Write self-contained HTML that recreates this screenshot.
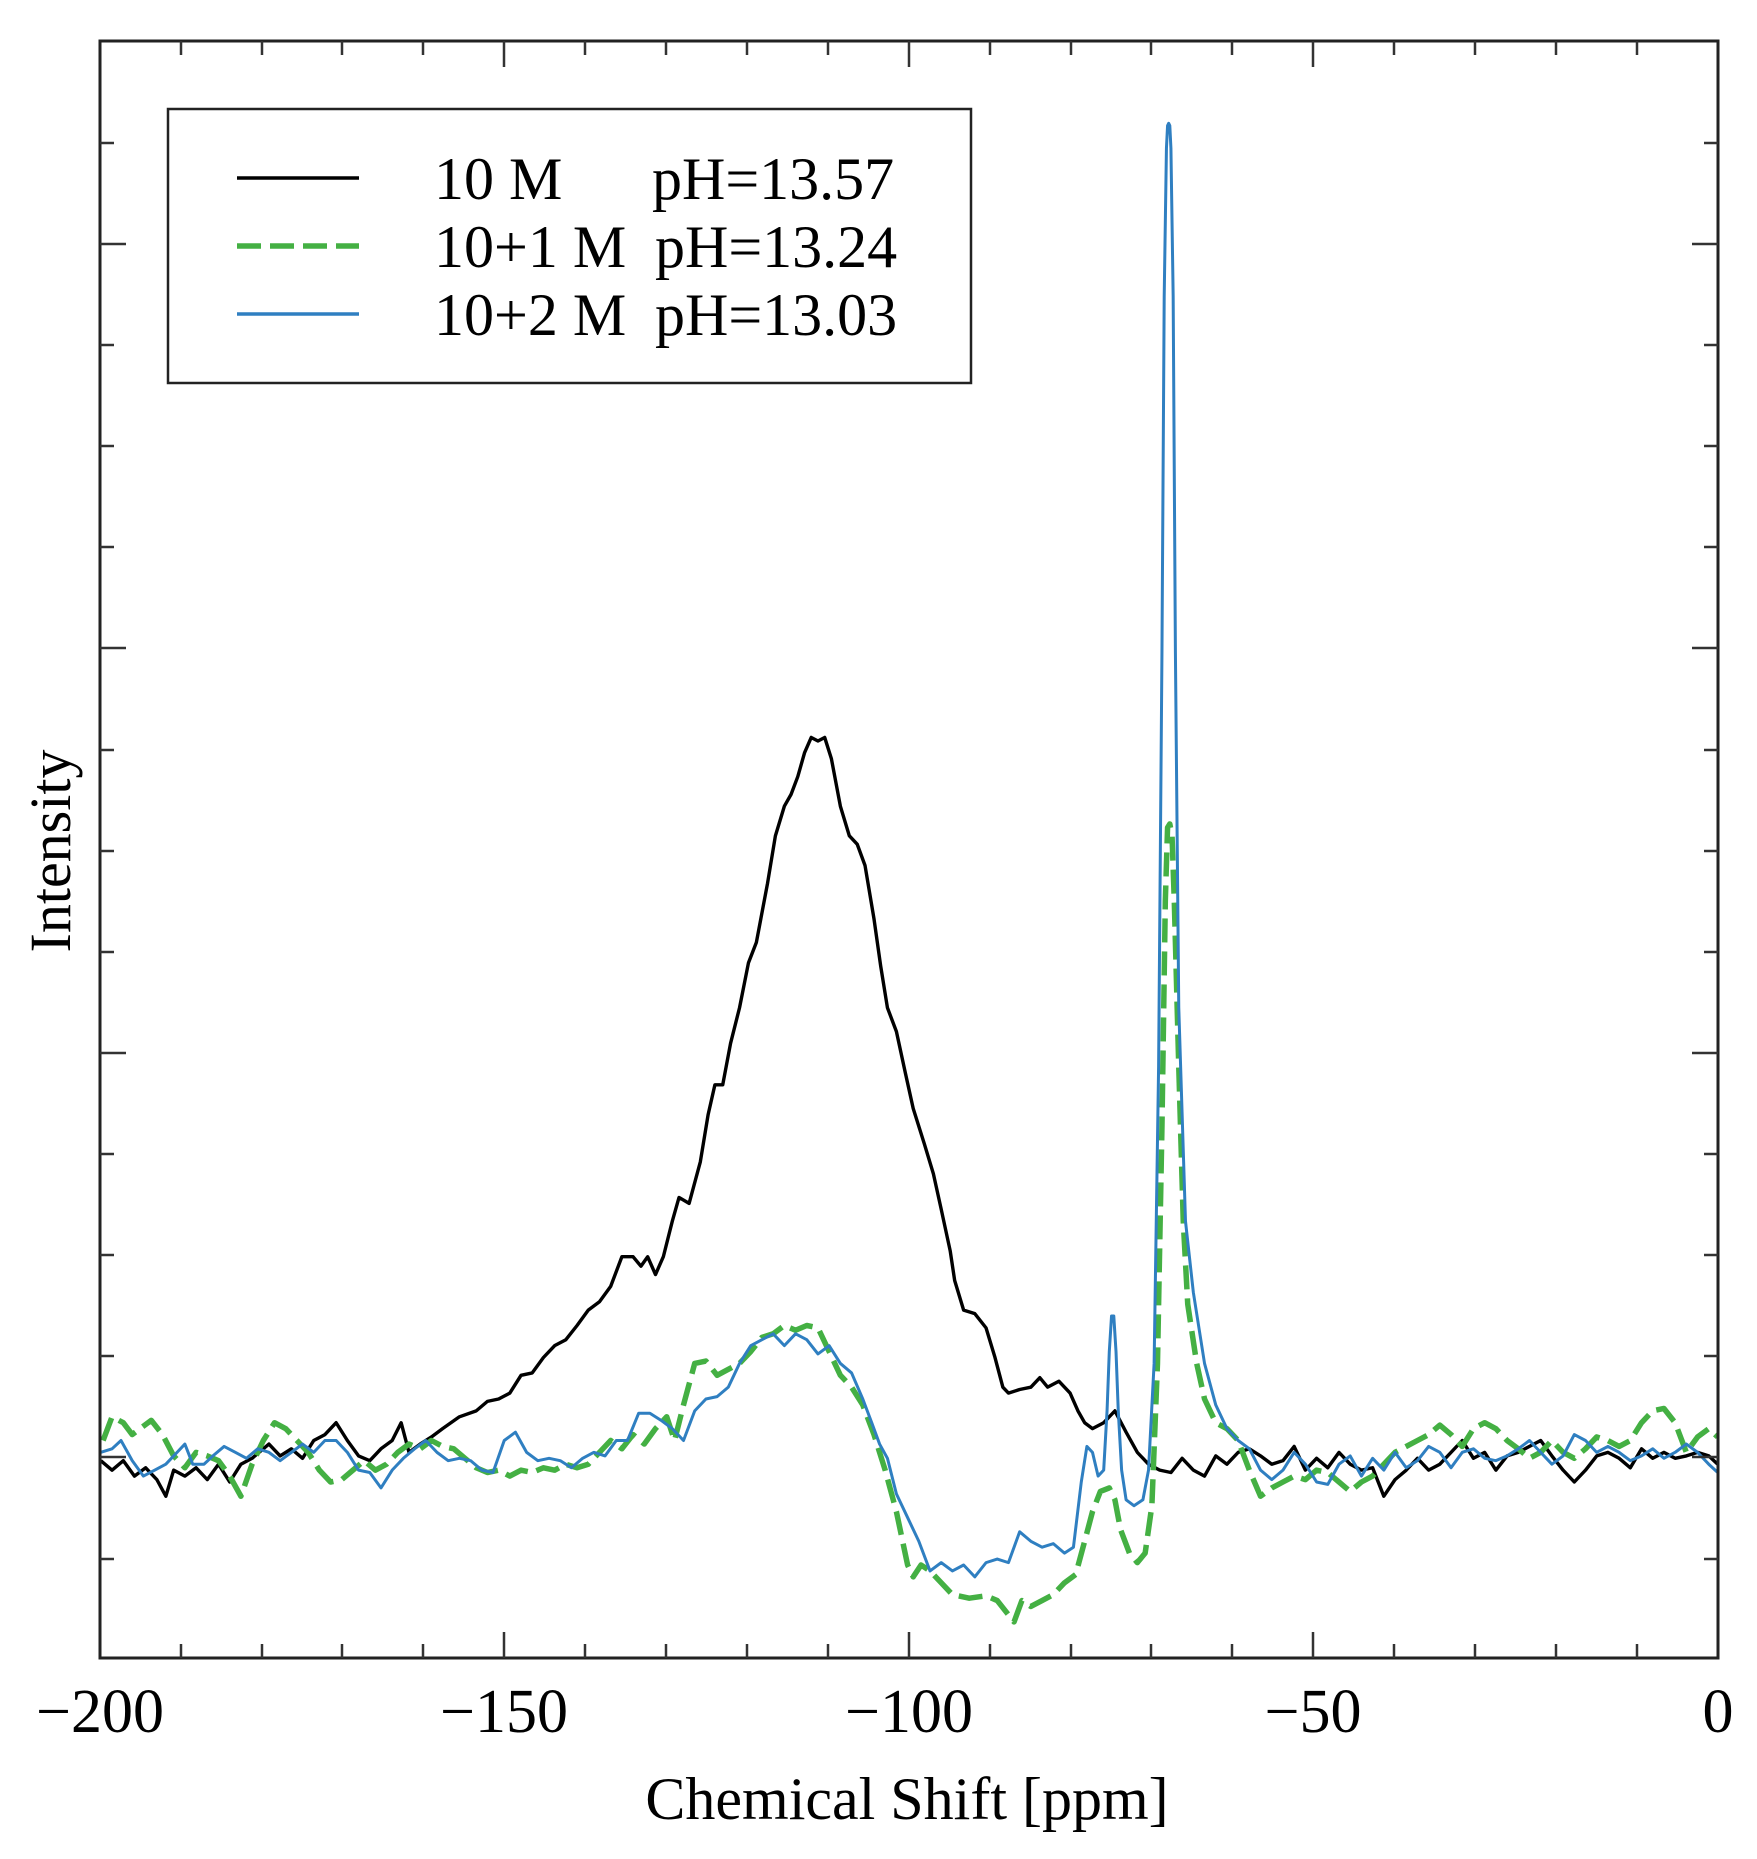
<!DOCTYPE html>
<html><head><meta charset="utf-8"><style>
html,body{margin:0;padding:0;background:#fff;}
svg{display:block;}
text{font-family:"Liberation Serif",serif;fill:#000;}
</style></head><body>
<svg width="1757" height="1859" viewBox="0 0 1757 1859" xmlns="http://www.w3.org/2000/svg">
<rect width="1757" height="1859" fill="#fff"/>
<g transform="scale(1.1205,1.1856)" fill="none" stroke-linejoin="round" stroke-linecap="butt">
<polyline vector-effect="non-scaling-stroke" stroke="#000" stroke-width="3.4" points="90,1232 100,1240 110,1232 120,1245 130,1238 140,1248 148,1262 155,1240 165,1245 175,1238 185,1248 195,1235 205,1250 215,1235 225,1230 240,1218 250,1228 260,1222 270,1230 280,1215 290,1210 300,1200 310,1215 320,1228 330,1232 340,1222 350,1215 358,1200 365,1225 375,1218 385,1212 395,1205 410,1195 425,1190 435,1182 445,1180 455,1175 465,1160 475,1158 485,1145 495,1135 505,1130 515,1118 525,1105 535,1098 545,1085 555,1060 565,1060 572,1068 578,1060 585,1075 592,1060 600,1030 606,1010 615,1015 625,980 632,940 638,915 645,915 652,880 660,850 668,812 675,795 685,745 692,705 700,680 706,670 712,655 718,635 724,622 730,625 736,622 742,640 750,680 758,705 765,712 772,730 780,775 786,815 792,850 800,870 808,905 815,935 825,965 833,990 840,1020 848,1055 852,1080 860,1105 870,1108 880,1120 888,1145 895,1170 900,1175 910,1172 920,1170 928,1162 935,1170 945,1165 955,1175 962,1190 968,1200 975,1205 985,1200 995,1190 1005,1208 1015,1225 1025,1235 1035,1240 1045,1242 1055,1230 1065,1240 1075,1245 1085,1228 1095,1235 1105,1225 1115,1222 1125,1228 1135,1235 1145,1232 1155,1220 1165,1240 1175,1230 1185,1238 1195,1225 1205,1235 1215,1240 1225,1238 1235,1262 1245,1248 1255,1240 1265,1230 1275,1240 1285,1235 1295,1225 1305,1215 1315,1230 1325,1225 1335,1240 1345,1228 1355,1225 1365,1220 1375,1215 1385,1228 1395,1240 1405,1250 1415,1240 1425,1228 1435,1225 1445,1230 1455,1238 1465,1222 1475,1230 1485,1225 1495,1230 1505,1228 1515,1225 1525,1228 1533,1235"/>
<polyline vector-effect="non-scaling-stroke" stroke="#44b043" stroke-width="5.5" stroke-dasharray="24,9" points="92,1215 100,1195 110,1200 118,1210 125,1205 135,1198 145,1210 155,1228 165,1238 175,1225 185,1228 195,1232 205,1245 215,1262 225,1235 235,1215 245,1200 255,1205 265,1215 275,1225 285,1240 295,1250 305,1248 315,1240 325,1232 335,1240 345,1235 355,1225 365,1218 375,1222 385,1215 395,1220 405,1222 415,1230 425,1238 435,1242 445,1240 455,1245 465,1240 475,1242 485,1238 495,1240 505,1235 515,1238 525,1235 535,1225 545,1215 555,1222 565,1210 575,1218 585,1205 595,1195 602,1215 610,1185 620,1150 630,1148 640,1160 650,1155 660,1150 670,1140 680,1128 690,1125 700,1118 710,1122 720,1118 730,1120 740,1140 750,1160 760,1170 770,1185 780,1210 790,1240 800,1275 810,1320 815,1330 822,1320 830,1325 840,1335 850,1345 865,1348 880,1346 890,1350 900,1362 905,1368 912,1350 920,1355 930,1350 940,1345 950,1335 960,1328 968,1300 975,1275 982,1258 990,1255 995,1265 1000,1290 1008,1310 1015,1318 1022,1310 1028,1270 1033,1150 1037,950 1040,760 1042,698 1044,695 1046,705 1048,760 1052,900 1056,1030 1060,1100 1068,1150 1075,1180 1085,1200 1095,1205 1105,1215 1115,1240 1125,1262 1135,1255 1145,1250 1155,1245 1165,1248 1175,1240 1185,1242 1195,1250 1205,1258 1215,1250 1225,1245 1235,1235 1245,1225 1255,1220 1265,1215 1275,1210 1285,1202 1295,1210 1305,1220 1315,1205 1325,1200 1335,1205 1345,1215 1355,1222 1365,1230 1375,1225 1385,1215 1395,1225 1405,1230 1415,1222 1425,1212 1435,1215 1445,1220 1455,1215 1465,1200 1475,1190 1485,1188 1495,1200 1505,1225 1515,1212 1525,1205 1533,1212"/>
<polyline vector-effect="non-scaling-stroke" stroke="#2f7fc1" stroke-width="3" points="90,1225 100,1222 108,1215 118,1232 128,1245 138,1240 148,1235 158,1225 165,1218 172,1235 182,1235 190,1228 200,1220 210,1225 220,1230 230,1222 240,1225 250,1232 260,1225 270,1218 280,1225 290,1215 300,1215 310,1225 320,1240 330,1242 340,1255 350,1240 360,1230 370,1222 380,1215 390,1225 400,1232 410,1230 420,1232 430,1240 440,1242 450,1215 460,1208 470,1225 480,1232 490,1230 500,1232 510,1238 520,1230 530,1225 540,1228 550,1215 560,1215 570,1192 580,1192 590,1198 600,1205 610,1215 620,1190 630,1180 640,1178 650,1170 660,1150 670,1135 680,1130 690,1125 700,1135 710,1125 720,1130 730,1142 740,1135 750,1150 760,1158 770,1180 778,1200 785,1218 792,1230 800,1260 810,1280 820,1300 830,1325 840,1318 850,1325 860,1320 870,1330 880,1318 890,1315 900,1318 910,1292 920,1300 930,1305 940,1302 950,1310 958,1305 965,1250 970,1220 975,1225 980,1245 985,1240 988,1190 990,1140 992,1110 994,1110 996,1140 998,1190 1001,1240 1005,1265 1012,1270 1020,1265 1025,1240 1030,1150 1034,900 1037,550 1039,250 1041,125 1042,106 1043,104 1044,106 1045,125 1047,250 1049,550 1052,850 1058,1030 1065,1090 1075,1150 1085,1185 1095,1205 1105,1215 1115,1222 1125,1240 1135,1248 1145,1240 1155,1225 1165,1235 1175,1250 1185,1252 1195,1235 1205,1228 1215,1245 1225,1230 1235,1240 1245,1225 1255,1238 1265,1232 1275,1220 1285,1225 1295,1238 1305,1225 1315,1222 1325,1230 1335,1232 1345,1228 1355,1222 1365,1215 1375,1225 1385,1235 1395,1228 1405,1210 1415,1215 1425,1225 1435,1220 1445,1225 1455,1232 1465,1228 1475,1222 1485,1230 1495,1225 1505,1218 1515,1225 1525,1235 1533,1242"/>
</g>
<rect x="100" y="41" width="1618" height="1617" fill="none" stroke="#222" stroke-width="3"/>
<g stroke="#333" stroke-width="2.5">
<path d="M181,1658v-14M262,1658v-14M342,1658v-14M423,1658v-14M585,1658v-14M666,1658v-14M747,1658v-14M828,1658v-14M990,1658v-14M1071,1658v-14M1151,1658v-14M1232,1658v-14M1394,1658v-14M1475,1658v-14M1556,1658v-14M1637,1658v-14"/>
<path d="M504,1658v-26M909,1658v-26M1313,1658v-26"/>
<path d="M181,41v14M262,41v14M342,41v14M423,41v14M585,41v14M666,41v14M747,41v14M828,41v14M990,41v14M1071,41v14M1151,41v14M1232,41v14M1394,41v14M1475,41v14M1556,41v14M1637,41v14"/>
<path d="M504,41v26M909,41v26M1313,41v26"/>
<path d="M100,143h14M100,345h14M100,446h14M100,547h14M100,750h14M100,851h14M100,952h14M100,1154h14M100,1255h14M100,1356h14M100,1559h14"/>
<path d="M100,244h26M100,648h26M100,1053h26M100,1457h26"/>
<path d="M1718,143h-14M1718,345h-14M1718,446h-14M1718,547h-14M1718,750h-14M1718,851h-14M1718,952h-14M1718,1154h-14M1718,1255h-14M1718,1356h-14M1718,1559h-14"/>
<path d="M1718,244h-26M1718,648h-26M1718,1053h-26M1718,1457h-26"/>
</g>
<g font-size="62" text-anchor="middle">
<text x="100" y="1732">−200</text>
<text x="504" y="1732">−150</text>
<text x="909" y="1732">−100</text>
<text x="1313" y="1732">−50</text>
<text x="1718" y="1732">0</text>
</g>
<text x="907" y="1819" font-size="60" text-anchor="middle">Chemical Shift [ppm]</text>
<text transform="translate(70,851) rotate(-90)" font-size="58" text-anchor="middle">Intensity</text>
<rect x="168" y="109" width="803" height="274" fill="#fff" stroke="#222" stroke-width="2.5"/>
<line x1="237" y1="178" x2="359" y2="178" stroke="#000" stroke-width="3.5"/>
<line x1="237" y1="246" x2="359" y2="246" stroke="#44b043" stroke-width="5.5" stroke-dasharray="24,9"/>
<line x1="237" y1="314" x2="359" y2="314" stroke="#2f7fc1" stroke-width="3.5"/>
<g font-size="60">
<text x="434" y="199">10 M</text><text x="652" y="199">pH=13.57</text>
<text x="434" y="267">10+1 M</text><text x="655" y="267">pH=13.24</text>
<text x="434" y="335">10+2 M</text><text x="655" y="335">pH=13.03</text>
</g>
</svg>
</body></html>
